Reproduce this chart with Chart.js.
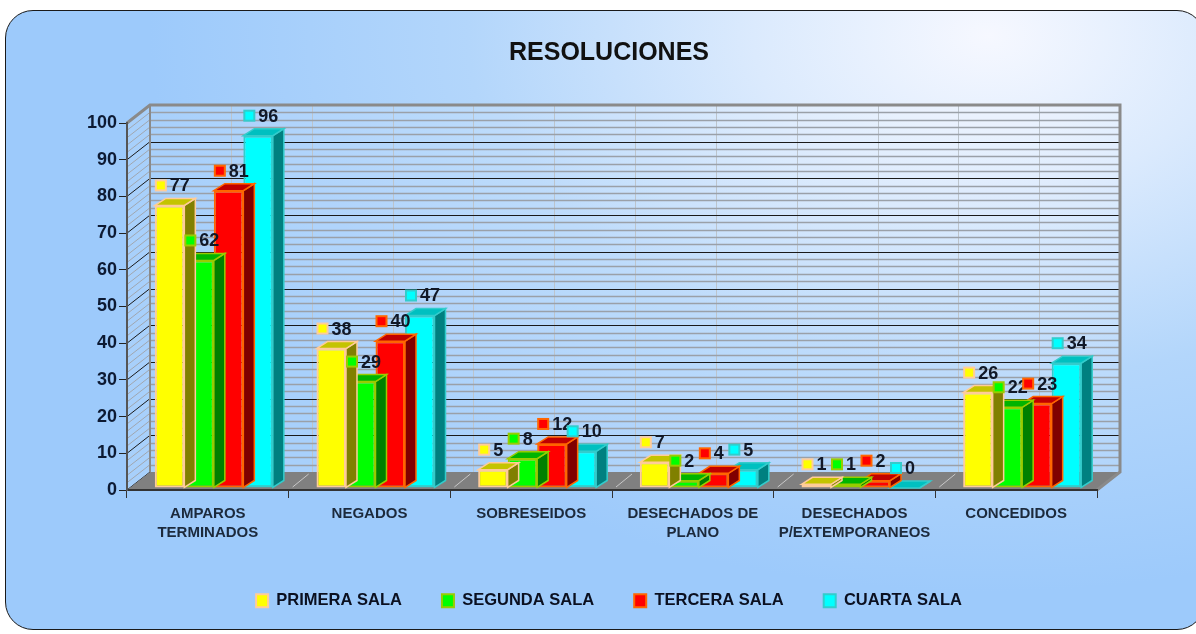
<!DOCTYPE html>
<html>
<head>
<meta charset="utf-8">
<script src="https://cdn.jsdelivr.net/npm/chart.js"></script>
<style>
  html, body { margin: 0; padding: 0; background: #fff; }
  #card {
    position: absolute; left: 5px; top: 10px; width: 1200px; height: 620px;
    border: 1.5px solid #1a1a1a; border-radius: 28px; box-sizing: border-box;
    background: radial-gradient(ellipse 70% 90% at 82% 4%, #f6f8ff 0%, #dbeafd 28%, #b3d6fb 62%, #9dcafb 100%);
  }
  #wrap { position: absolute; left: 0; top: 0; width: 1196px; height: 634px; }
</style>
</head>
<body>
<div id="card"></div>
<div id="wrap"><canvas id="myChart" width="1196" height="634"></canvas></div>
<script>
// datos
var categorias = [['AMPAROS', 'TERMINADOS'], 'NEGADOS', 'SOBRESEIDOS', ['DESECHADOS DE', 'PLANO'], ['DESECHADOS', 'P/EXTEMPORANEOS'], 'CONCEDIDOS']
var primeraSala = [77, 38, 5, 7, 1, 26]
var segundaSala = [62, 29, 8, 2, 1, 22]
var terceraSala = [81, 40, 12, 4, 2, 23]
var cuartaSala = [96, 47, 10, 5, 0, 34]

// colores: frente, borde, lado, arriba
var colores = [
    ['#ffff00', '#ffcc99', '#808000', '#c4c400'],
    ['#00ff00', '#99cc00', '#008000', '#00b400'],
    ['#ff0000', '#ff6600', '#800000', '#c00000'],
    ['#00ffff', '#33cccc', '#008080', '#00c0c0']
]

// profundidad de la pared de fondo y de las barras
const DX = 23, DY = -18
const BDX = 11, BDY = -7
const SHIFT_X = 6, SHIFT_Y = -2

let walls = {
    id: 'walls',
    beforeDraw(chart) {
        let ctx = chart.ctx, x = chart.scales.x, y = chart.scales.y
        let L = x.left, R = x.right, B = y.getPixelForValue(0), T = y.getPixelForValue(100)
        let n = chart.data.labels.length, w = (R - L) / n
        ctx.save()
        // pared izquierda y fondo
        ctx.fillStyle = 'rgba(255,255,255,0.12)'
        ctx.beginPath()
        ctx.moveTo(L, T); ctx.lineTo(L + DX, T + DY); ctx.lineTo(R + DX, T + DY)
        ctx.lineTo(R + DX, B + DY); ctx.lineTo(L + DX, B + DY); ctx.lineTo(L, B)
        ctx.closePath(); ctx.fill()
        // lineas verticales en el fondo
        ctx.strokeStyle = '#bcc4cc'; ctx.lineWidth = 1
        for (let i = 1; i < n * 2; i++) {
            let px = Math.round(L + DX + i * w / 2) + 0.5
            ctx.beginPath(); ctx.moveTo(px, T + DY); ctx.lineTo(px, B + DY); ctx.stroke()
        }
        // lineas horizontales
        for (let v = 0; v < 100; v += 2) {
            let py = Math.round(y.getPixelForValue(v) + DY) + 0.5
            let major = v % 10 === 0
            ctx.strokeStyle = major ? '#1a1a1a' : '#9aa0a8'
            ctx.lineWidth = major ? 1.2 : 1.6
            ctx.beginPath(); ctx.moveTo(L + DX, py); ctx.lineTo(R + DX, py); ctx.stroke()
            ctx.lineWidth = 1
            ctx.strokeStyle = major ? '#1a1a1a' : '#a0a6ae'
            let fy = y.getPixelForValue(v)
            ctx.beginPath(); ctx.moveTo(L, fy); ctx.lineTo(L + DX, fy + DY); ctx.stroke()
        }
        // piso
        ctx.fillStyle = '#808080'
        ctx.beginPath()
        ctx.moveTo(L, B); ctx.lineTo(R, B); ctx.lineTo(R + DX, B + DY); ctx.lineTo(L + DX, B + DY)
        ctx.closePath(); ctx.fill()
        ctx.strokeStyle = '#c8c8c8'; ctx.lineWidth = 1
        for (let i = 1; i < n; i++) {
            let px = L + i * w
            ctx.beginPath(); ctx.moveTo(px + 4, B - 3); ctx.lineTo(px + DX - 3, B + DY + 2); ctx.stroke()
        }
        // marco
        ctx.strokeStyle = '#8a8a8a'; ctx.lineWidth = 3
        ctx.beginPath()
        ctx.moveTo(L, T); ctx.lineTo(L + DX, T + DY); ctx.lineTo(R + DX, T + DY)
        ctx.lineTo(R + DX, B + DY); ctx.lineTo(R, B)
        ctx.stroke()
        ctx.lineWidth = 2
        ctx.beginPath(); ctx.moveTo(L + DX, T + DY); ctx.lineTo(L + DX, B + DY); ctx.stroke()
        ctx.restore()
    },
    beforeDatasetDraw(chart) {
        chart.ctx.save()
        chart.ctx.translate(SHIFT_X, SHIFT_Y)
    },
    afterDatasetDraw(chart, args) {
        let ctx = chart.ctx, c = colores[args.index]
        args.meta.data.forEach(function (bar) {
            let p = bar.getProps(['x', 'y', 'base', 'width'], true)
            let l = p.x - p.width / 2, r = p.x + p.width / 2
            ctx.lineWidth = 1.5
            ctx.strokeStyle = c[1]
            // lado
            ctx.fillStyle = c[2]
            ctx.beginPath()
            ctx.moveTo(r, p.y); ctx.lineTo(r + BDX, p.y + BDY); ctx.lineTo(r + BDX, p.base + BDY); ctx.lineTo(r, p.base)
            ctx.closePath(); ctx.fill(); ctx.stroke()
            // arriba
            ctx.fillStyle = c[3]
            ctx.beginPath()
            ctx.moveTo(l, p.y); ctx.lineTo(l + BDX, p.y + BDY); ctx.lineTo(r + BDX, p.y + BDY); ctx.lineTo(r, p.y)
            ctx.closePath(); ctx.fill(); ctx.stroke()
        })
        ctx.restore()
    },
    afterDraw(chart) {
        let ctx = chart.ctx
        ctx.save()
        ctx.translate(SHIFT_X, SHIFT_Y)
        ctx.font = 'bold 18px "Liberation Sans", Arial'
        ctx.textBaseline = 'middle'
        chart.data.datasets.forEach(function (ds, i) {
            let c = colores[i]
            chart.getDatasetMeta(i).data.forEach(function (bar, j) {
                let p = bar.getProps(['x', 'y', 'width'], true)
                let sx = p.x - p.width / 2, sy = p.y - 20
                ctx.fillStyle = c[1]
                ctx.fillRect(sx, sy - 6, 12, 12)
                ctx.fillStyle = c[0]
                ctx.fillRect(sx + 2, sy - 4, 8, 8)
                ctx.fillStyle = '#111827'
                ctx.fillText(String(ds.data[j]), sx + 15, sy + 1)
            })
        })
        ctx.restore()
    }
}

let ctx = document.getElementById('myChart').getContext('2d')
let nombres = ['PRIMERA SALA', 'SEGUNDA SALA', 'TERCERA SALA', 'CUARTA SALA']
let series = [primeraSala, segundaSala, terceraSala, cuartaSala]

let myChart = new Chart(ctx, {
    type: 'bar',
    data: {
        labels: categorias,
        datasets: series.map(function (s, i) {
            return {
                label: nombres[i],
                data: s,
                backgroundColor: colores[i][0],
                borderColor: colores[i][1],
                borderWidth: 2,
                borderSkipped: false,
                categoryPercentage: 0.73,
                barPercentage: 1,
                clip: false
            }
        })
    },
    options: {
        responsive: false,
        animation: false,
        layout: { padding: { left: 22, right: 0, top: 0, bottom: 15 } },
        plugins: {
            title: {
                display: true,
                text: 'RESOLUCIONES',
                color: '#111',
                font: { family: '"Liberation Sans", Arial', size: 25, weight: 'bold' },
                padding: { top: 38, bottom: 55 }
            },
            legend: {
                position: 'bottom',
                labels: {
                    color: '#0b1020',
                    font: { family: '"Liberation Sans", Arial', size: 16.5, weight: 'bold' },
                    boxWidth: 12,
                    boxHeight: 13,
                    padding: 40
                }
            },
            tooltip: { enabled: false }
        },
        scales: {
            x: {
                grid: { drawOnChartArea: false, tickLength: 8, color: '#333' },
                border: { color: '#333', width: 2 },
                ticks: {
                    color: '#1c2a3c',
                    padding: 6,
                    maxRotation: 0,
                    autoSkip: false,
                    font: { family: '"Liberation Sans", Arial', size: 15, weight: 'bold', lineHeight: 1.27 }
                },
                afterFit: function (s) { s.height = 62.5 }
            },
            y: {
                min: 0,
                max: 100,
                grid: { drawOnChartArea: false, tickLength: 8, color: '#222' },
                border: { color: '#555', width: 2 },
                ticks: {
                    stepSize: 10,
                    padding: 2,
                    color: '#0d1a33',
                    font: { family: '"Liberation Sans", Arial', size: 18, weight: 'bold' }
                },
                afterFit: function (s) { s.width = 105 }
            },
            y2: {
                position: 'right',
                grid: { display: false },
                border: { display: false },
                ticks: { display: false },
                afterFit: function (s) { s.width = 99 }
            }
        }
    },
    plugins: [walls]
})
</script>
</body>
</html>
